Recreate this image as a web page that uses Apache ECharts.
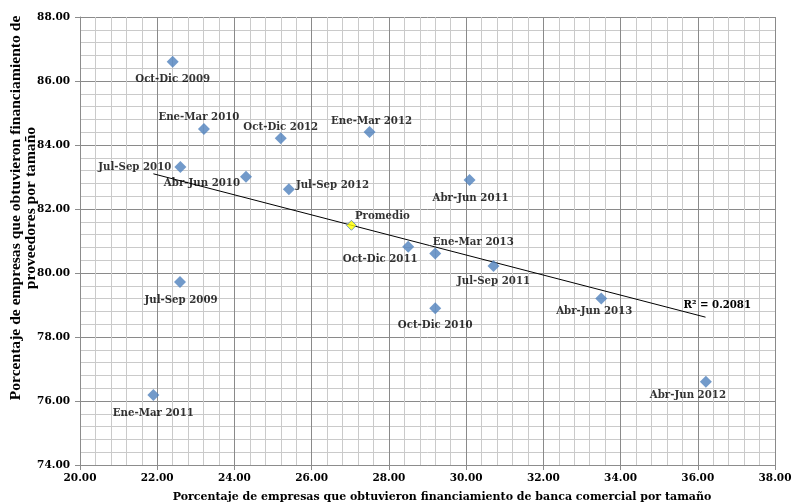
<!DOCTYPE html>
<html>
<head>
<meta charset="utf-8">
<script src="https://cdn.jsdelivr.net/npm/echarts@6/dist/echarts.min.js"></script>
<style>html,body{margin:0;padding:0;background:#fff}#c{width:793px;height:504px}</style>
</head>
<body>
<div id="c"></div>
<script>
var pointNames = ['Oct-Dic 2009','Ene-Mar 2010','Jul-Sep 2010','Abr-Jun 2010','Oct-Dic 2012','Ene-Mar 2012','Jul-Sep 2012','Abr-Jun 2011','Oct-Dic 2011','Ene-Mar 2013','Jul-Sep 2011','Oct-Dic 2010','Abr-Jun 2013','Abr-Jun 2012','Jul-Sep 2009','Ene-Mar 2011'];
var xValues = [22.40, 23.21, 22.60, 24.30, 25.20, 27.50, 25.41, 30.09, 28.50, 29.20, 30.71, 29.20, 33.50, 36.21, 22.59, 21.90];
var yValues = [86.60, 84.50, 83.31, 83.01, 84.21, 84.41, 82.62, 82.91, 80.82, 80.61, 80.22, 78.90, 79.20, 76.60, 79.72, 76.19];
var averageName = 'Promedio';
var averagePoint = [27.03, 81.49];
var trendX = [21.90, 36.20];
var trendY = [83.10, 78.62];
var r2Text = 'R² = 0.2081';
var xTitle = 'Porcentaje de empresas que obtuvieron financiamiento de banca comercial por tamaño';
var yTitle = 'Porcentaje de empresas que obtuvieron financiamiento de\nproveedores por tamaño';

// label placement (style only): position, offset, distance
var labelPlace = {
  'Oct-Dic 2009': ['bottom',[0,0],7],
  'Ene-Mar 2010': ['top',[-5,0],1],
  'Jul-Sep 2010': ['left',[2,0],5],
  'Abr-Jun 2010': ['left',[5,7],5],
  'Oct-Dic 2012': ['top',[0,0],0],
  'Ene-Mar 2012': ['top',[2,0],0],
  'Jul-Sep 2012': ['right',[-4,-4],5],
  'Abr-Jun 2011': ['bottom',[1,0],7],
  'Oct-Dic 2011': ['bottom',[-28,-5],7],
  'Ene-Mar 2013': ['top',[38,0],0],
  'Jul-Sep 2011': ['bottom',[0,-3],7],
  'Oct-Dic 2010': ['bottom',[0,-1],7],
  'Abr-Jun 2013': ['bottom',[-7,-5],7],
  'Abr-Jun 2012': ['bottom',[-18,-4],7],
  'Jul-Sep 2009': ['bottom',[1,0],7],
  'Ene-Mar 2011': ['bottom',[0,0],7]
};

var FONT = 'DejaVu Serif';
var lblStyle = {fontFamily: FONT, fontWeight: 'bold', fontSize: 10.2, color: '#000'};

var pts = pointNames.map(function(n, i){
  var p = labelPlace[n];
  return {
    name: n,
    value: [xValues[i], yValues[i]],
    label: Object.assign({show: true, formatter: n, position: p[0], offset: p[1], distance: p[2]}, lblStyle)
  };
});

var chart = echarts.init(document.getElementById('c'), null, {renderer: 'canvas'});
chart.setOption({
  animation: false,
  backgroundColor: '#fff',
  grid: {left: 80, right: 18, top: 17, bottom: 39, containLabel: false, outerBoundsMode: 'none'},
  graphic: [
    {type: 'text', x: 442, y: 497, silent: true,
     style: {text: xTitle, font: 'bold 11px "DejaVu Serif"', fill: '#000', textAlign: 'center', textVerticalAlign: 'middle'}},
    {type: 'text', x: 23, y: 208, rotation: Math.PI / 2, silent: true,
     style: {text: yTitle, font: 'bold 15.6px "Liberation Serif"', fill: '#000', textAlign: 'center', textVerticalAlign: 'middle', lineHeight: 15}}
  ],
  xAxis: {
    type: 'value', min: 20, max: 38, interval: 2,
    axisLine: {show: true, onZero: false, lineStyle: {color: '#8c8c8c', width: 1}},
    axisTick: {show: true, length: 5, lineStyle: {color: '#8c8c8c'}},
    axisLabel: {formatter: function(v){return v.toFixed(2);}, fontFamily: FONT, fontWeight: 'bold', fontSize: 10.5, color: '#000', margin: 8},
    splitLine: {show: true, lineStyle: {color: '#8a8a8a', width: 1}},
    minorTick: {show: false, splitNumber: 5},
    minorSplitLine: {show: true, lineStyle: {color: '#cacaca', width: 1}}
  },
  yAxis: {
    type: 'value', min: 74, max: 88, interval: 2,
    axisLine: {show: true, onZero: false, lineStyle: {color: '#8c8c8c', width: 1}},
    axisTick: {show: true, length: 5, lineStyle: {color: '#8c8c8c'}},
    axisLabel: {formatter: function(v){return v.toFixed(2);}, fontFamily: FONT, fontWeight: 'bold', fontSize: 10.5, color: '#000', margin: 10},
    splitLine: {show: true, lineStyle: {color: '#8a8a8a', width: 1}},
    minorTick: {show: false, splitNumber: 5},
    minorSplitLine: {show: true, lineStyle: {color: '#cacaca', width: 1}}
  },
  series: [
    {
      type: 'line',
      data: [[trendX[0], trendY[0]], [trendX[1], trendY[1]]],
      symbol: 'none', silent: true,
      lineStyle: {color: '#000', width: 1},
      z: 2,
      endLabel: {show: true, formatter: r2Text, fontFamily: FONT, fontWeight: 'bold', fontSize: 10.2, color: '#000', offset: [-30, -12]}
    },
    {
      type: 'scatter',
      symbol: 'diamond', symbolSize: 12,
      itemStyle: {color: '#4F81BD'},
      data: pts,
      z: 3
    },
    {
      type: 'scatter',
      symbol: 'diamond', symbolSize: 10,
      itemStyle: {color: '#FFFF00', borderColor: '#4F81BD', borderWidth: 1},
      data: [{name: averageName, value: averagePoint,
        label: Object.assign({show: true, formatter: averageName, position: 'right', offset: [-7, -9]}, lblStyle)}],
      z: 4
    }
  ]
});
</script>
</body>
</html>
